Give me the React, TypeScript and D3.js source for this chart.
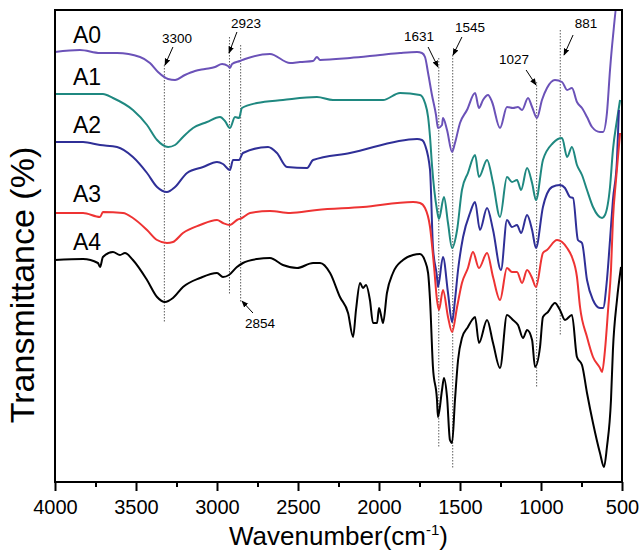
import React, { useEffect, useRef } from 'react';
import * as d3 from 'd3';

// FTIR spectra, [wavenumber (cm-1), transmittance (a.u.)]
const a0: [number, number][] = [
  [4000, 87.8], [3846, 88.2], [3722, 87.6], [3617, 87.6], [3475, 86.8], [3414, 85.6], [3364, 83.8],
  [3302, 82.4], [3259, 82.2], [3198, 83.2], [3136, 84.0], [3074, 84.4], [3012, 84.8], [2969, 85.4],
  [2932, 85.0], [2920, 84.6], [2907, 85.4], [2858, 86.0], [2827, 86.4], [2673, 87.4], [2549, 85.6],
  [2488, 85.8], [2407, 86.0], [2383, 86.8], [2364, 86.2], [2179, 86.6], [1994, 87.2], [1870, 87.6],
  [1765, 87.8], [1735, 87.6], [1716, 86.8], [1697, 83.6], [1673, 79.2], [1648, 75.2], [1636, 72.6],
  [1611, 73.2], [1605, 74.6], [1580, 72.2], [1549, 67.8], [1531, 69.6], [1500, 73.6], [1457, 76.2],
  [1407, 79.6], [1383, 76.6], [1358, 78.2], [1327, 79.2], [1302, 77.8], [1253, 72.6], [1210, 76.8],
  [1173, 76.6], [1142, 76.8], [1117, 76.2], [1080, 78.6], [1055, 76.8], [1025, 74.6], [994, 78.2],
  [963, 80.6], [914, 82.2], [870, 81.8], [839, 80.2], [809, 80.6], [778, 77.8], [747, 76.6],
  [716, 74.8], [685, 72.8], [636, 71.8], [617, 71.8], [593, 75.6], [574, 84.2], [556, 90.8],
  [531, 97], [520, 97],
];

const a1: [number, number][] = [
  [4000, 79.4], [3704, 79.4], [3642, 78.6], [3519, 76.2], [3432, 73.2], [3370, 70.2], [3302, 68.8],
  [3259, 69.2], [3210, 70.8], [3148, 72.6], [3062, 73.8], [2981, 74.8], [2951, 74.0], [2920, 72.6],
  [2889, 74.8], [2864, 74.6], [2846, 76.6], [2753, 77.6], [2593, 78.2], [2383, 78.8], [2284, 78.2],
  [2160, 78.2], [1975, 78.2], [1870, 79.6], [1747, 79.2], [1716, 77.6], [1697, 74.8], [1685, 70.8],
  [1673, 65.2], [1642, 56.2], [1630, 54.4], [1599, 58.8], [1574, 53.6], [1549, 48.6], [1518, 52.2],
  [1488, 60.2], [1451, 63.6], [1407, 67.2], [1383, 62.8], [1333, 66.2], [1296, 61.6], [1253, 54.8],
  [1210, 62.8], [1179, 61.8], [1148, 62.2], [1123, 60.2], [1086, 64.6], [1055, 61.6], [1031, 58.2],
  [988, 66.2], [926, 69.6], [870, 70.6], [839, 66.8], [809, 68.8], [778, 65.2], [747, 63.2],
  [716, 60.2], [679, 56.8], [623, 54.6], [605, 55.2], [574, 60.8], [556, 68.2], [531, 74.2],
  [512, 78.2],
];

const a2: [number, number][] = [
  [4000, 69.8], [3827, 69.8], [3722, 69.2], [3617, 68.8], [3519, 66.8], [3432, 63.6], [3370, 60.8],
  [3309, 59.8], [3259, 60.8], [3185, 63.6], [3086, 64.8], [3000, 65.8], [2963, 65.4], [2920, 64.2],
  [2901, 66.2], [2864, 66.2], [2840, 67.6], [2685, 68.8], [2630, 67.6], [2568, 64.8], [2444, 64.6],
  [2407, 66.2], [2179, 67.6], [1765, 70.4], [1735, 70.2], [1716, 69.2], [1685, 64.2], [1667, 48.8],
  [1642, 42.8], [1636, 40.8], [1605, 46.8], [1574, 39.6], [1549, 33.8], [1531, 38.2], [1512, 44.2],
  [1481, 50.8], [1438, 55.6], [1407, 57.8], [1377, 52.2], [1333, 56.6], [1296, 52.2], [1247, 44.2],
  [1210, 54.2], [1179, 52.8], [1148, 53.2], [1123, 51.6], [1086, 55.2], [1055, 52.2], [1031, 48.6],
  [988, 56.8], [932, 60.8], [883, 61.2], [852, 60.6], [821, 58.8], [802, 58.6], [772, 50.2],
  [747, 49.6], [716, 42.2], [679, 38.2], [636, 36.6], [617, 36.6], [593, 42.2], [574, 50.2],
  [556, 58.2], [531, 66.2], [519, 76.2],
];

const a3: [number, number][] = [
  [4000, 55.6], [3827, 55.6], [3722, 54.8], [3704, 55.8], [3580, 55.6], [3519, 54.6], [3432, 52.2],
  [3370, 50.2], [3309, 49.6], [3272, 49.8], [3210, 51.6], [3105, 53.2], [3000, 54.2], [2963, 53.6],
  [2920, 53.2], [2877, 54.2], [2846, 54.6], [2796, 55.6], [2673, 56.0], [2549, 55.6], [2383, 56.2],
  [2099, 56.8], [1790, 57.8], [1747, 57.6], [1716, 56.6], [1685, 52.8], [1660, 44.8], [1642, 38.2],
  [1630, 36.2], [1605, 40.2], [1574, 34.8], [1549, 31.8], [1518, 36.8], [1488, 41.6], [1451, 44.6],
  [1420, 47.8], [1383, 44.6], [1333, 47.6], [1296, 42.8], [1253, 38.2], [1210, 44.6], [1179, 43.8],
  [1148, 43.8], [1117, 41.6], [1086, 44.2], [1055, 42.6], [1031, 40.8], [988, 47.6], [963, 48.2],
  [901, 50.2], [870, 49.8], [839, 48.6], [809, 46.8], [778, 42.8], [759, 36.8], [716, 30.8],
  [679, 26.8], [636, 24.6], [623, 23.8], [605, 28.2], [586, 36.2], [568, 44.2], [556, 54.2],
  [537, 62.2], [512, 71.6],
];

const a4: [number, number][] = [
  [4000, 46.2], [3827, 46.4], [3735, 45.6], [3722, 44.8], [3704, 46.8], [3642, 47.8], [3599, 47.2],
  [3568, 47.6], [3519, 46.2], [3432, 42.2], [3370, 38.8], [3321, 37.8], [3272, 38.6], [3210, 40.8],
  [3105, 42.6], [3000, 43.6], [2963, 42.8], [2926, 43.2], [2877, 44.8], [2840, 45.6], [2753, 46.4],
  [2673, 46.6], [2593, 45.2], [2506, 44.6], [2407, 45.6], [2364, 45.6], [2302, 43.6], [2241, 38.8],
  [2191, 35.6], [2160, 30.8], [2142, 36.2], [2117, 41.6], [2099, 40.6], [2080, 41.2], [2056, 38.2],
  [2037, 33.6], [2012, 33.6], [2000, 36.6], [1981, 34.2], [1975, 33.6], [1951, 39.6], [1914, 43.6],
  [1852, 46.2], [1790, 47.2], [1747, 47.4], [1716, 46.0], [1697, 43.6], [1685, 38.2], [1667, 24.8],
  [1642, 18.2], [1636, 14.8], [1611, 20.2], [1599, 22.6], [1580, 18.8], [1562, 10.2], [1549, 9.6],
  [1531, 18.2], [1512, 26.2], [1488, 30.6], [1451, 32.8], [1426, 34.2], [1407, 34.8], [1383, 29.6],
  [1333, 34.2], [1296, 29.6], [1253, 24.6], [1210, 35.2], [1173, 34.2], [1142, 33.2], [1111, 30.6],
  [1086, 32.2], [1055, 30.2], [1037, 24.8], [1006, 28.8], [988, 34.8], [957, 35.8], [914, 37.6],
  [883, 36.2], [852, 34.2], [809, 35.2], [778, 26.8], [747, 25.2], [716, 19.6], [679, 13.6],
  [636, 7.6], [611, 4.8], [593, 8.8], [568, 18.2], [556, 28.2], [531, 38.2], [506, 44.8],
];

const seriesNames = ['A0', 'A1', 'A2', 'A3', 'A4'];
const seriesData = [a0, a1, a2, a3, a4];
const seriesColors = ['#6b52b8', '#1f8880', '#2f2f97', '#ee3333', '#000000'];
// where each sample name sits [wavenumber, transmittance]
const namePos: [number, number][] = [[3889, 89.6], [3889, 81.2], [3889, 71.6], [3889, 57.8], [3889, 48.2]];

// band assignments
const bandLabels = ['3300', '2923', '2854', '1631', '1545', '1027', '881'];
const bandLineAt = [3325, 2923, 2854, 1631, 1545, 1027, 881];
const bandLineTop = [85.2, 90.8, 89.2, 86.6, 87.2, 81.8, 92.2];
const bandLineBottom = [33.8, 39.2, 37.6, 8.6, 4.6, 20.8, 31.2];
const bandTextAt: [number, number][] = [[3247, 89.6], [2821, 92.6], [2735, 32.6], [1753, 90], [1438, 91.8], [1167, 85.4], [722, 92.6]];
const arrowFrom: [number, number][] = [[3272, 88.8], [2877, 91.8], [2778, 35.6], [1697, 88.8], [1488, 90.8], [1092, 84.2], [802, 91.2]];
const arrowTo: [number, number][] = [[3321, 85.2], [2926, 87.6], [2846, 38], [1636, 84.8], [1543, 87.2], [1031, 81.2], [858, 87.2]];

const majorTicks = [4000, 3500, 3000, 2500, 2000, 1500, 1000, 500];
const minorTicks = [3750, 3250, 2750, 2250, 1750, 1250, 750];

const width = 640;
const height = 552;
const margin = { top: 10, right: 18, bottom: 70, left: 55 };
const font = '"Liberation Sans", Arial, sans-serif';

export default function App() {
  const axisRef = useRef<SVGGElement>(null);
  const minorRef = useRef<SVGGElement>(null);

  const x = d3.scaleLinear().domain([4000, 500]).range([margin.left, width - margin.right]);
  const y = d3.scaleLinear().domain([1.8, 96.2]).range([height - margin.bottom, margin.top]);

  const line = d3.line<[number, number]>().x((d) => x(d[0])).y((d) => y(d[1])).curve(d3.curveMonotoneX);

  useEffect(() => {
    const g = d3.select(axisRef.current!);
    g.call(d3.axisBottom(x).tickValues(majorTicks).tickSize(9).tickPadding(9).tickFormat(d3.format('d')));
    g.select('.domain').remove();
    g.selectAll('line').attr('stroke', '#000').attr('stroke-width', 2);
    g.selectAll('text').attr('font-size', 20).attr('font-family', font).attr('fill', '#000');

    const m = d3.select(minorRef.current!);
    m.call(d3.axisBottom(x).tickValues(minorTicks).tickSize(5).tickFormat(() => ''));
    m.select('.domain').remove();
    m.selectAll('line').attr('stroke', '#000').attr('stroke-width', 2);
  }, []);

  const plotW = width - margin.left - margin.right;
  const plotH = height - margin.top - margin.bottom;
  const bottom = height - margin.bottom;

  return (
    <svg width={width} height={height} style={{ position: 'absolute', left: 0, top: 0, background: '#fff' }} fontFamily={font}>
      <defs>
        <clipPath id="plot-clip">
          <rect x={margin.left} y={margin.top} width={plotW} height={plotH} />
        </clipPath>
        <marker id="arrow" viewBox="0 0 10 10" refX="9" refY="5" markerWidth="7" markerHeight="7" orient="auto" markerUnits="userSpaceOnUse">
          <path d="M0,1 L10,5 L0,9 z" fill="#000" />
        </marker>
      </defs>

      {/* band marker lines */}
      {bandLineAt.map((w, i) => (
        <line key={`band-${i}`} x1={x(w)} x2={x(w)} y1={y(bandLineTop[i])} y2={y(bandLineBottom[i])}
          stroke="#333" strokeWidth={0.8} strokeDasharray="1.5,1.5" />
      ))}

      {/* spectra */}
      <g clipPath="url(#plot-clip)">
        {seriesData.map((d, i) => (
          <path key={seriesNames[i]} d={line(d) ?? ''} fill="none" stroke={seriesColors[i]} strokeWidth={2} strokeLinejoin="round" />
        ))}
      </g>

      {/* sample names */}
      {namePos.map((p, i) => (
        <text key={`name-${i}`} x={x(p[0])} y={y(p[1])} fontSize={23} fill="#000">{seriesNames[i]}</text>
      ))}

      {/* band labels and arrows */}
      {bandLabels.map((t, i) => (
        <g key={`lab-${i}`}>
          <text x={x(bandTextAt[i][0])} y={y(bandTextAt[i][1])} fontSize={13.5} textAnchor="middle" fill="#000">{t}</text>
          <line x1={x(arrowFrom[i][0])} y1={y(arrowFrom[i][1])} x2={x(arrowTo[i][0])} y2={y(arrowTo[i][1])}
            stroke="#000" strokeWidth={1} markerEnd="url(#arrow)" />
        </g>
      ))}

      {/* frame */}
      <rect x={margin.left} y={margin.top} width={plotW} height={plotH} fill="none" stroke="#000" strokeWidth={2} />

      <g ref={axisRef} transform={`translate(0, ${bottom})`} />
      <g ref={minorRef} transform={`translate(0, ${bottom})`} />

      <text x={(margin.left + width - margin.right) / 2} y={545} fontSize={26} textAnchor="middle" fill="#000">
        Wavenumber(cm<tspan dy={-10} fontSize={15}>-1</tspan><tspan dy={10}>)</tspan>
      </text>
      <text transform={`translate(34, ${285}) rotate(-90)`} fontSize={34} textAnchor="middle" fill="#000">
        Transmittance (%)
      </text>
    </svg>
  );
}
